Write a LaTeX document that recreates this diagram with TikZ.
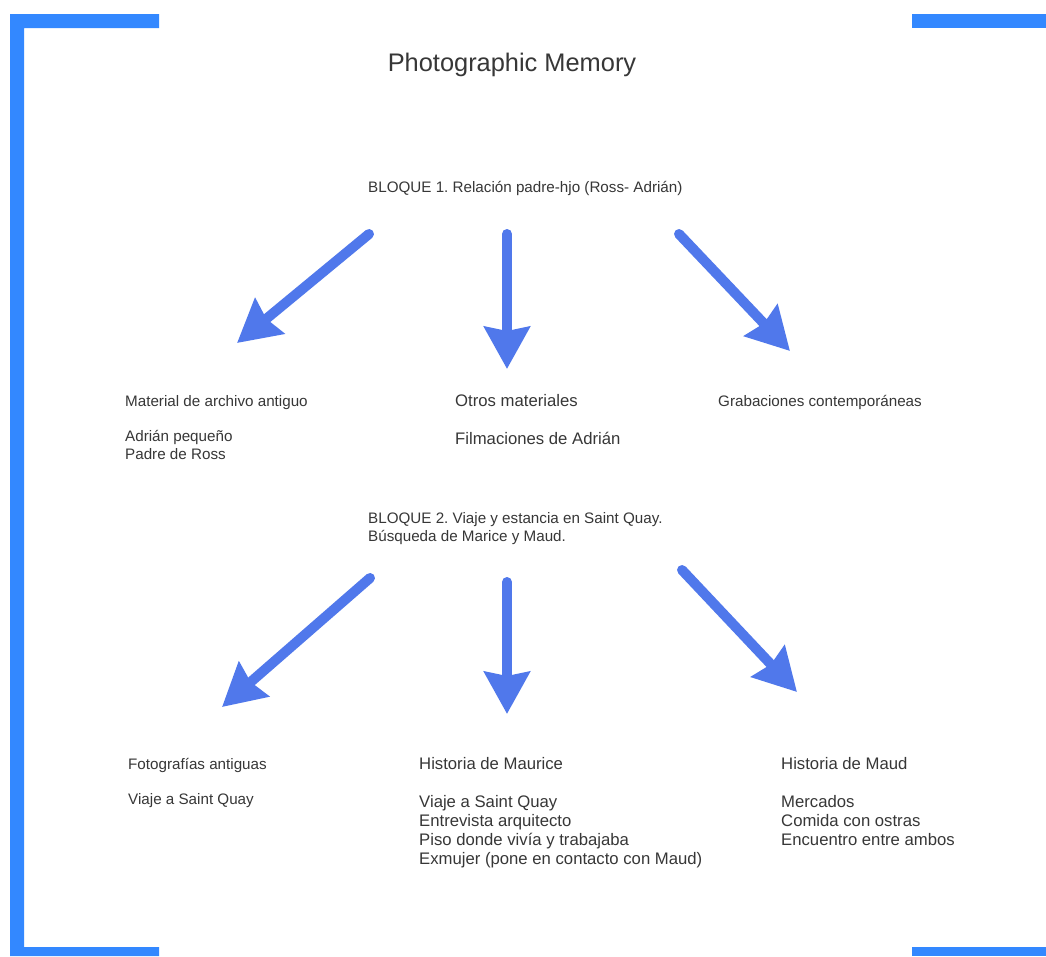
\documentclass[tikz,border=0pt]{standalone}
\usepackage{fontspec}
\setmainfont{Liberation Sans}
\usetikzlibrary{arrows.meta}
\frenchspacing
\definecolor{bracketblue}{RGB}{51,136,255}
\definecolor{arrowblue}{RGB}{80,120,235}
\definecolor{txt}{RGB}{55,55,55}
\tikzset{
  small/.style={anchor=north west, inner sep=0pt, align=left, text=txt, font=\fontsize{15.2}{17.5}\selectfont},
  large/.style={anchor=north west, inner sep=0pt, align=left, text=txt, font=\fontsize{16.7}{19}\selectfont},
  bigarrow/.style={draw=arrowblue, line width=10pt, line cap=round, -{Stealth[length=42pt,width=45pt,inset=4pt,fill=arrowblue]}},
  bracket/.style={fill=bracketblue}
}
\begin{document}
\begin{tikzpicture}[x=1pt,y=-1pt]
\useasboundingbox (0,0) rectangle (1046,956);
\fill[white] (0,0) rectangle (1046,956);
% brackets
\fill[bracket] (10,14) -- (159,14) -- (159,28) -- (24,28) -- (24,947) -- (159,947) -- (159,956) -- (10,956) -- cycle;
\fill[bracket] (912,14) rectangle (1046,28);
\fill[bracket] (912,947) rectangle (1046,956);
% title
\node[anchor=north, inner sep=0pt, text=txt, font=\fontsize{25.4}{30}\selectfont] (title) at (512,52.6) {Photographic Memory};
% block 1
\node[small] (b1) at (368,181.4) {BLOQUE 1. Relación padre-hjo (Ross- Adrián)};
\node[small] (c11) at (125,395.4) {Material de archivo antiguo\\[17.5pt]Adrián pequeño\\Padre de Ross};
\node[large] (c12) at (455,393.8) {Otros materiales\\[19pt]Filmaciones de Adrián};
\node[small] (c13) at (718,395.4) {Grabaciones contemporáneas};
% block 2
\node[small] (b2) at (368,512.4) {BLOQUE 2. Viaje y estancia en Saint Quay.\\Búsqueda de Marice y Maud.};
\node[small] (c21) at (128,758.4) {Fotografías antiguas\\[17.5pt]Viaje a Saint Quay};
\node[large] (c22) at (419,756.8) {Historia de Maurice\\[19pt]Viaje a Saint Quay\\Entrevista arquitecto\\Piso donde vivía y trabajaba\\Exmujer (pone en contacto con Maud)};
\node[large] (c23) at (781,756.8) {Historia de Maud\\[19pt]Mercados\\Comida con ostras\\Encuentro entre ambos};
% arrow endpoints
\coordinate (a1s) at (369,234); \coordinate (a1e) at (237,343);
\coordinate (a2s) at (507,234); \coordinate (a2e) at (507,369);
\coordinate (a3s) at (679,234); \coordinate (a3e) at (790,351);
\coordinate (a4s) at (370,578); \coordinate (a4e) at (222,707);
\coordinate (a5s) at (507,582); \coordinate (a5e) at (507,714);
\coordinate (a6s) at (682,570); \coordinate (a6e) at (797,692);
\draw[bigarrow] (a1s) -- (a1e);
\draw[bigarrow] (a2s) -- (a2e);
\draw[bigarrow] (a3s) -- (a3e);
\draw[bigarrow] (a4s) -- (a4e);
\draw[bigarrow] (a5s) -- (a5e);
\draw[bigarrow] (a6s) -- (a6e);
\end{tikzpicture}
\end{document}
